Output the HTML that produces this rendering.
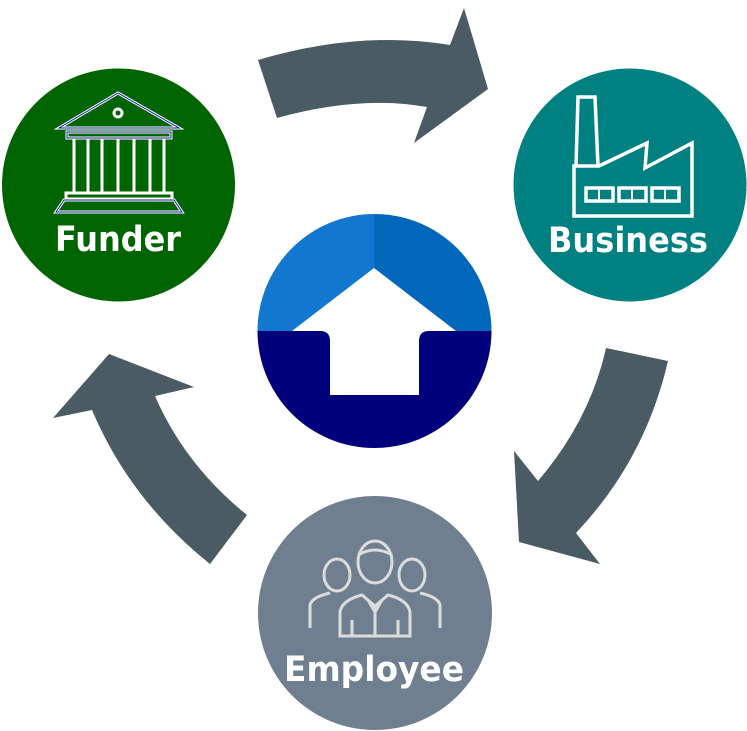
<!DOCTYPE html>
<html><head><meta charset="utf-8"><style>
html,body{margin:0;padding:0;background:#fff}
svg{display:block}
text{font-family:"DejaVu Sans","Liberation Sans",sans-serif;font-weight:bold;fill:#fff}
</style></head><body>
<svg width="747" height="731" viewBox="0 0 747 731" xmlns="http://www.w3.org/2000/svg">
<g fill="#4a5b63">
<path d="M258,60 Q360,30 450,45 L464,8 L488,89 L414,143 L427,107 Q360,95 277,118 Z"/>
<path d="M606,348 L668,361 Q645,460 576,533 L600,564 L519,542 L514,451 L538,481 Q590,420 606,348 Z"/>
<path d="M247,515 Q185,465 155,396 L194,387 L109,354 L53,418 L92,410 Q130,500 210,564 Z"/>
</g>
<circle cx="118.5" cy="185" r="116.5" fill="#006400"/>
<circle cx="630" cy="185" r="116.5" fill="#008080"/>
<circle cx="375" cy="613" r="117" fill="#6f7f8f"/>
<clipPath id="c"><circle cx="374.5" cy="331" r="117"/></clipPath>
<g clip-path="url(#c)">
<rect x="250" y="210" width="125" height="121" fill="#1278cf"/>
<rect x="374.5" y="210" width="125" height="121" fill="#0067bb"/>
<rect x="250" y="331" width="250" height="130" fill="#00007d"/>
<path d="M374,268 L456,331 L429,331 Q419,331 419,341 L419,395 L330,395 L330,341 Q330,331 320,331 L292,331 Z" fill="#fff"/>
</g>
<g fill="none" stroke="#fff" stroke-width="3">
<path d="M118,93 L59,128 L179,128 Z"/>
<circle cx="118" cy="113" r="4"/>
<rect x="67" y="132" width="104" height="6"/>
<path d="M74,139V193M88,139V193M102,139V193M118,139V193M134,139V193M150,139V193M164,139V193"/>
<rect x="66" y="193" width="106" height="6"/>
<path d="M56,212 L64,200 L174,200 L182,212 Z"/>
</g>
<g fill="none" stroke="#1a1aa0" stroke-width="1">
<path d="M118,93 L59,128 L179,128 Z"/>
<rect x="67" y="132" width="104" height="6"/>
<path d="M56,212 L64,200 L174,200 L182,212 Z"/>
</g>
<text x="55" y="251" font-size="35" textLength="126" lengthAdjust="spacingAndGlyphs">Funder</text>
<g fill="none" stroke="#fff" stroke-width="3.5">
<path d="M576,166 L578,97 L595,97 L598,166"/>
<path d="M574,216 L574,166 L599,166 L647,143 L645,168 L692,143 L692,216 Z"/>
<rect x="586" y="188" width="27" height="13"/>
<rect x="619" y="188" width="27" height="13"/>
<rect x="652" y="188" width="27" height="13"/>
<path d="M599,188V201M632,188V201M665,188V201" stroke-width="2"/>
</g>
<text x="548" y="252" font-size="35" textLength="160" lengthAdjust="spacingAndGlyphs">Business</text>
<g fill="none" stroke="#dcdcdc" stroke-width="3">
<ellipse cx="337" cy="575" rx="13" ry="16"/>
<ellipse cx="412" cy="575" rx="13" ry="16"/>
<path d="M310,628 L310,605 Q312,597 330,593 M440,628 L440,605 Q438,597 420,593"/>
<ellipse cx="375" cy="562" rx="17" ry="21"/>
<path d="M358,555 Q375,545 392,555"/>
<path d="M340,636 L340,612 Q342,600 362,595 L375,606 L388,595 Q408,600 410,612 L410,636 Z"/>
<path d="M375,606 L375,636 M368,600 L375,612 L382,600 M352,620 V636 M398,620 V636"/>
</g>
<text x="284" y="681" font-size="35" textLength="180" lengthAdjust="spacingAndGlyphs">Employee</text>
</svg>
</body></html>
